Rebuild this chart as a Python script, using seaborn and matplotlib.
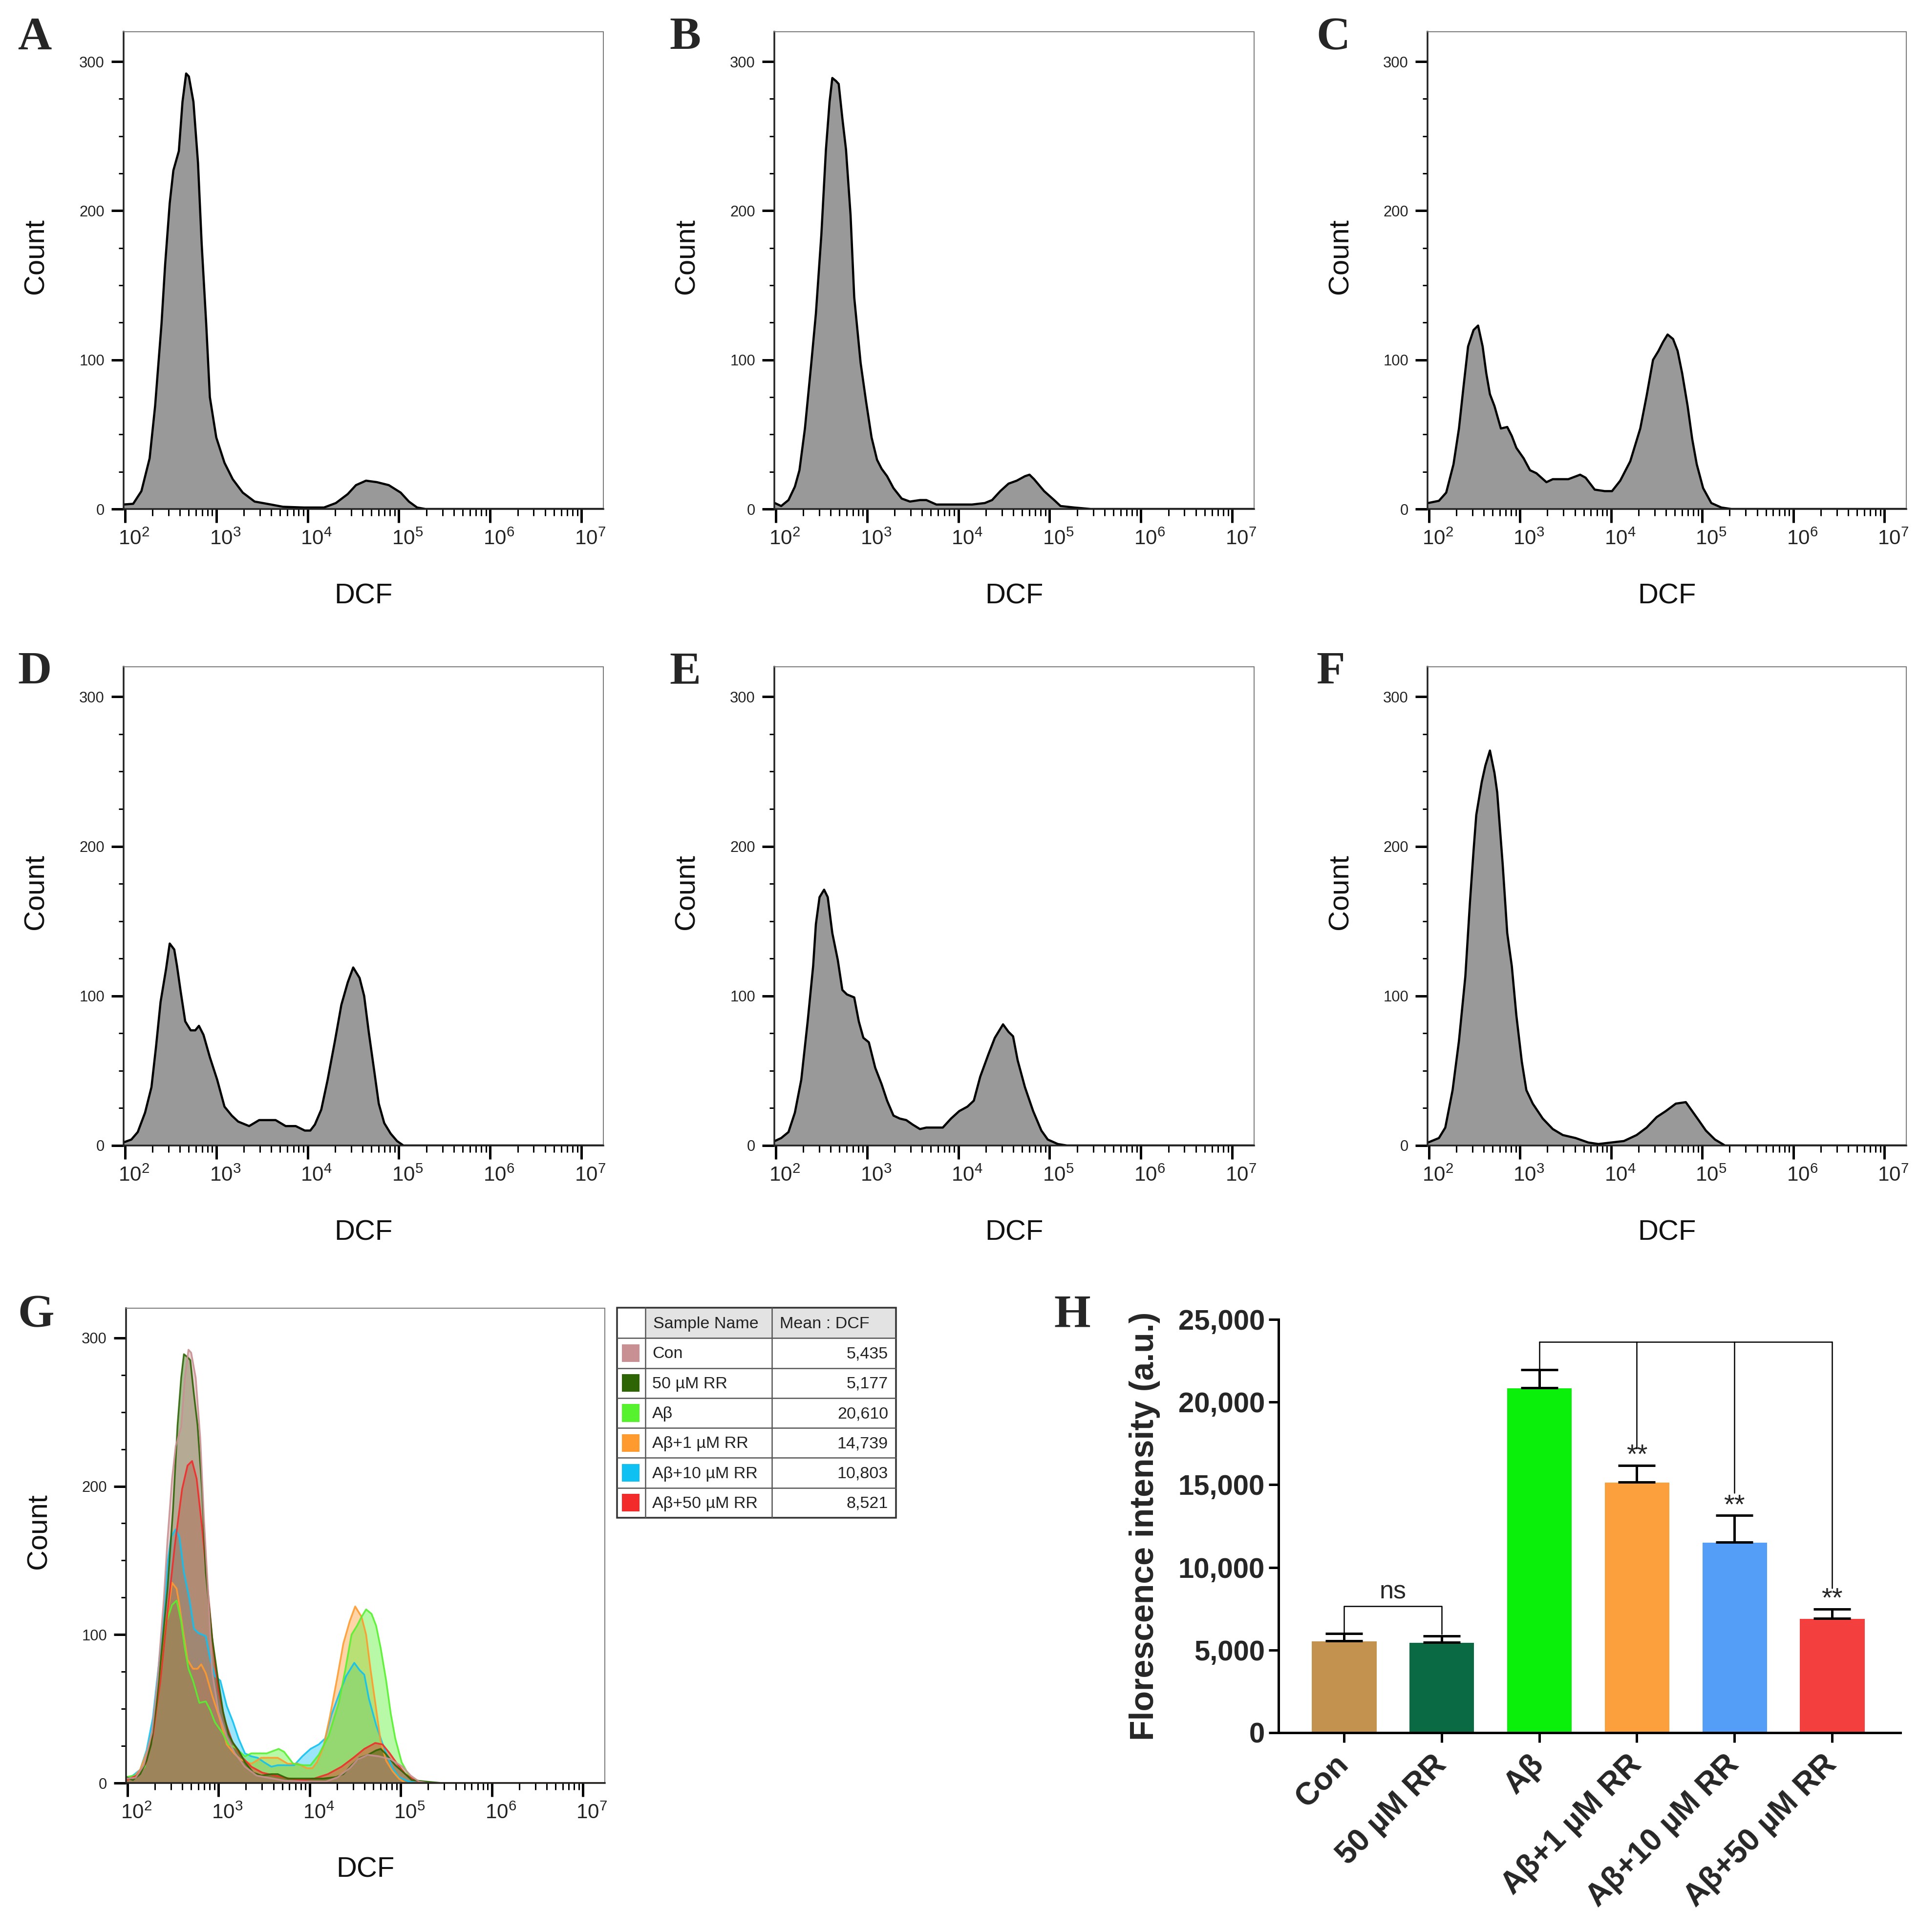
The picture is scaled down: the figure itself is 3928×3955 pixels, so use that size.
import numpy as np
import pandas as pd
import matplotlib
matplotlib.use("Agg")
import matplotlib.pyplot as plt
import matplotlib.transforms as mtransforms
from matplotlib.patches import Rectangle
from matplotlib.ticker import FuncFormatter
import seaborn as sns

# ---------------- data ----------------
# flow histograms: x = log10(DCF), y = count
a_x = [1.98, 2.09, 2.18, 2.27, 2.33, 2.40, 2.44, 2.49, 2.53, 2.59, 2.63, 2.67, 2.70, 2.75, 2.80, 2.84, 2.89, 2.93, 3.00,
       3.09, 3.18, 3.29, 3.42, 3.60, 3.73, 3.96, 4.18, 4.31, 4.44, 4.53, 4.64, 4.76, 4.89, 5.02, 5.11, 5.20, 5.29, 7.24]
a_y = [3, 3.5, 12, 34, 69, 124, 164, 205, 227, 240, 273, 292, 290, 273, 232, 178, 124, 75, 48,
       31, 20, 11, 5, 3, 1.5, 1, 1, 4, 10, 16, 19, 18, 16, 11, 5, 1, 0, 0]

b_x = [1.99, 2.06, 2.14, 2.21, 2.26, 2.32, 2.39, 2.44, 2.50, 2.55, 2.59, 2.62, 2.66, 2.69, 2.73, 2.77, 2.82, 2.86,
       2.93, 2.99, 3.05, 3.11, 3.16, 3.22, 3.29, 3.38, 3.47, 3.58, 3.65, 3.76, 3.86, 4.01, 4.15, 4.29, 4.37, 4.46,
       4.55, 4.64, 4.73, 4.78, 4.83, 4.94, 5.05, 5.12, 5.27, 5.45, 7.24]
b_y = [4, 2, 6, 15, 26, 54, 98, 131, 184, 241, 273, 289, 287, 285, 262, 241, 197, 142,
       98, 72, 48, 33, 27, 22, 14, 7, 5, 6, 6, 3, 3, 3, 3, 4, 6, 12,
       17, 19, 22, 23, 20, 12, 6, 2, 1, 0, 0]

c_x = [1.99, 2.11, 2.19, 2.27, 2.33, 2.38, 2.43, 2.49, 2.54, 2.59, 2.63, 2.67, 2.72, 2.79, 2.86, 2.91, 2.96, 3.04,
       3.11, 3.18, 3.29, 3.36, 3.53, 3.66, 3.72, 3.82, 3.93, 4.01, 4.10, 4.21, 4.32, 4.39, 4.46, 4.52, 4.57, 4.62,
       4.68, 4.73, 4.78, 4.84, 4.89, 4.94, 5.01, 5.10, 5.21, 5.32, 7.24]
c_y = [4, 5.5, 11, 30, 54, 82, 109, 120, 123, 109, 91, 77, 69, 54, 55, 49, 41, 34,
       26, 24, 18, 20, 20, 23, 21, 13, 12, 12, 19, 32, 54, 76, 100, 106, 112, 117,
       114, 106, 91, 69, 47, 30, 14, 4, 1, 0, 0]

d_x = [1.98, 2.07, 2.14, 2.22, 2.29, 2.34, 2.39, 2.45, 2.49, 2.54, 2.57, 2.61, 2.66, 2.72, 2.77, 2.81, 2.86, 2.93,
       3.01, 3.09, 3.17, 3.24, 3.36, 3.47, 3.65, 3.76, 3.87, 3.97, 4.03, 4.08, 4.15, 4.22, 4.30, 4.37, 4.44, 4.50,
       4.57, 4.62, 4.67, 4.73, 4.78, 4.84, 4.91, 4.98, 5.05, 7.24]
d_y = [2, 4, 9, 22, 39, 66, 96, 118, 135, 131, 120, 103, 83, 77, 77, 80, 74, 59,
       44, 26, 20, 16, 13, 17, 17, 13, 13, 10, 10, 14, 24, 44, 70, 94, 109, 119,
       112, 100, 76, 50, 28, 15, 8, 3, 0, 0]

e_x = [1.99, 2.06, 2.14, 2.21, 2.28, 2.35, 2.41, 2.44, 2.48, 2.53, 2.57, 2.62, 2.68, 2.73, 2.78, 2.86, 2.91, 2.96,
       3.02, 3.09, 3.16, 3.22, 3.29, 3.36, 3.43, 3.50, 3.58, 3.65, 3.83, 3.92, 4.01, 4.10, 4.17, 4.24, 4.33, 4.40,
       4.49, 4.55, 4.60, 4.65, 4.73, 4.82, 4.91, 4.98, 5.09, 5.19, 7.24]
e_y = [3, 5, 9, 22, 44, 83, 120, 148, 166, 171, 166, 142, 124, 104, 101, 99, 83, 72,
       69, 52, 41, 30, 20, 18, 17, 14, 11, 12, 12, 18, 23, 26, 30, 46, 61, 72,
       81, 76, 73, 57, 39, 23, 10, 4, 1, 0, 0]

f_x = [1.99, 2.11, 2.18, 2.26, 2.33, 2.40, 2.45, 2.49, 2.52, 2.58, 2.62, 2.67, 2.72, 2.75, 2.81, 2.86, 2.91, 2.96,
       3.02, 3.07, 3.14, 3.25, 3.36, 3.47, 3.61, 3.75, 3.86, 4.00, 4.14, 4.28, 4.39, 4.50, 4.60, 4.71, 4.82, 4.89,
       4.96, 5.04, 5.14, 5.25, 7.24]
f_y = [2, 5, 12, 37, 70, 113, 162, 197, 221, 243, 254, 264, 249, 236, 188, 142, 120, 87,
       56, 37, 28, 18, 11, 7, 5, 2, 1, 2, 3, 7, 12, 19, 23, 28, 29, 23,
       17, 10, 4, 0, 0]

# red (Aβ+50 µM RR) trace of the overlay panel G
g_red_x = [1.99, 2.10, 2.20, 2.28, 2.36, 2.44, 2.52, 2.60, 2.66, 2.71, 2.76, 2.82, 2.88, 2.94, 3.00, 3.07, 3.15, 3.25,
           3.36, 3.48, 3.62, 3.78, 3.92, 4.05, 4.20, 4.35, 4.48, 4.60, 4.72, 4.80, 4.88, 4.96, 5.05, 5.15, 5.25, 7.24]
g_red_y = [2, 5, 13, 32, 68, 115, 160, 198, 214, 217, 205, 172, 132, 92, 62, 42, 28, 18,
           11, 7, 5, 3, 2, 3, 6, 11, 17, 23, 27, 26, 20, 13, 6, 2, 0, 0]

groups = ["Con", "50 µM RR", "Aβ", "Aβ+1 µM RR", "Aβ+10 µM RR", "Aβ+50 µM RR"]
mean_dcf = [5435, 5177, 20610, 14739, 10803, 8521]
overlay_colors = ["#C99093", "#2D6404", "#56F22E", "#FF9A2E", "#0EC1F2", "#F22A2A"]

# panel H
bar_means = [5560, 5460, 20860, 15160, 11520, 6910]
bar_err = [440, 400, 1110, 1010, 1620, 570]
bar_colors = ["#C4924F", "#0A6A44", "#0BF00B", "#FBA03C", "#549EF8", "#F43F3F"]
ns_pair = (0, 1)
star_groups = [3, 4, 5]
star_leg_ends = [17200, 14500, 8760]

# ---------------- style ----------------
sns.set_theme(style="ticks")
plt.rcParams["font.family"] = ["Liberation Sans", "DejaVu Sans"]
plt.rcParams["mathtext.fontset"] = "custom"
plt.rcParams["mathtext.rm"] = "Liberation Sans"
plt.rcParams["mathtext.default"] = "regular"

W, H = 3928, 3955
fig = plt.figure(figsize=(W / 72, H / 72), dpi=72)
fig.patch.set_facecolor("white")


def px_axes(l, t, r, b):
    return fig.add_axes([l / W, 1 - b / H, (r - l) / W, (b - t) / H])


decades = [2, 3, 4, 5, 6, 7]
minor_x = [n + np.log10(k) for n in range(1, 8) for k in range(2, 10)]
minor_x = [m for m in minor_x if 1.985 < m < 7.24]
label_shift = mtransforms.ScaledTranslation(18 / 72, 0, fig.dpi_scale_trans)


def style_hist(ax):
    ax.set_xlim(1.985, 7.24)
    ax.set_ylim(0, 320)
    ax.set_xticks(decades)
    ax.set_xticklabels([rf"$10^{{{d}}}$" for d in decades], fontsize=42)
    ax.set_xticks(minor_x, minor=True)
    ax.set_yticks([0, 100, 200, 300])
    ax.set_yticks([25, 50, 75, 125, 150, 175, 225, 250, 275], minor=True)
    ax.tick_params(axis="x", which="major", direction="out", length=28, width=5, pad=14,
                   color="black", labelcolor="#222222")
    ax.tick_params(axis="x", which="minor", direction="out", length=14, width=3, color="black")
    ax.tick_params(axis="y", which="major", direction="out", length=25, width=5, labelsize=31, pad=14,
                   color="black", labelcolor="#222222")
    ax.tick_params(axis="y", which="minor", direction="out", length=10, width=3, color="black")
    for s in ["left", "bottom"]:
        ax.spines[s].set_linewidth(3.5)
        ax.spines[s].set_color("#222222")
    for s in ["top", "right"]:
        ax.spines[s].set_linewidth(2)
        ax.spines[s].set_color("#7a7a7a")
    ax.set_xlabel("DCF", fontsize=58, color="#111111")
    ax.set_ylabel("Count", fontsize=58, color="#111111")
    ax.xaxis.set_label_coords(0.5, -0.155)
    ax.yaxis.set_label_coords(-0.155, 0.53)
    for lab in ax.get_xticklabels():
        lab.set_transform(lab.get_transform() + label_shift)


hist_boxes = {
    "A": (253, 65, 1235, 1042), "B": (1585, 65, 2567, 1042), "C": (2922, 65, 3902, 1042),
    "D": (253, 1365, 1235, 2345), "E": (1585, 1365, 2567, 2345), "F": (2922, 1365, 3902, 2345),
}
hist_data = {"A": (a_x, a_y), "B": (b_x, b_y), "C": (c_x, c_y),
             "D": (d_x, d_y), "E": (e_x, e_y), "F": (f_x, f_y)}

for key, box in hist_boxes.items():
    ax = px_axes(*box)
    xs, ys = hist_data[key]
    ax.fill_between(xs, ys, 0, color="#999999", lw=0, zorder=1)
    sns.lineplot(x=xs, y=ys, sort=False, estimator=None, color="black", lw=4.5, ax=ax, zorder=2)
    style_hist(ax)

# ---------------- panel G overlay ----------------
axg = px_axes(258, 2678, 1238, 3650)
overlay = [(e_x, e_y, 4), (d_x, d_y, 3), (c_x, c_y, 2), (g_red_x, g_red_y, 5), (b_x, b_y, 1), (a_x, a_y, 0)]
for xs, ys, gi in overlay:
    col = overlay_colors[gi]
    axg.fill_between(xs, ys, 0, color=col, alpha=0.42, lw=0)
    sns.lineplot(x=xs, y=ys, sort=False, estimator=None, color=col, lw=3.5, alpha=0.9, ax=axg)
style_hist(axg)

# table next to G
axt = px_axes(1263, 2677, 1834, 3107)
axt.set_xlim(0, 571)
axt.set_ylim(428, 0)
axt.axis("off")
col_x = [0, 58, 317, 571]
row_h0, row_h = 62, 61
axt.add_patch(Rectangle((58, 0), 513, row_h0, facecolor="#E3E3E3", edgecolor="none"))
axt.text(74, row_h0 / 2 + 2, "Sample Name", fontsize=34, va="center", ha="left", color="#222222")
axt.text(333, row_h0 / 2 + 2, "Mean : DCF", fontsize=34, va="center", ha="left", color="#222222")
for i, (name, val, col) in enumerate(zip(groups, mean_dcf, overlay_colors)):
    y0 = row_h0 + i * row_h
    yc = y0 + row_h / 2
    axt.add_patch(Rectangle((10, yc - 18), 36, 36, facecolor=col, edgecolor="none"))
    axt.text(72, yc + 2, name, fontsize=34, va="center", ha="left", color="#222222")
    axt.text(555, yc + 2, f"{val:,}", fontsize=34, va="center", ha="right", color="#222222")
    axt.plot([0, 571], [y0, y0], color="#555555", lw=2.5, clip_on=False)
for cx in col_x[1:3]:
    axt.plot([cx, cx], [0, 428], color="#555555", lw=2.5, clip_on=False)
axt.add_patch(Rectangle((0, 0), 571, 428, facecolor="none", edgecolor="#333333", lw=3.5, clip_on=False))

# ---------------- panel H bar chart ----------------
axh = px_axes(2617, 2701, 3890, 3547)
df_h = pd.DataFrame({"group": groups, "value": bar_means})
sns.barplot(data=df_h, x="group", y="value", hue="group", order=groups, hue_order=groups,
            palette=bar_colors, saturation=1, width=0.667, errorbar=None, legend=False, ax=axh, zorder=2)
axh.errorbar(range(len(groups)), bar_means, yerr=[np.zeros(len(groups)), bar_err], fmt="none",
             ecolor="black", elinewidth=5, capsize=38, capthick=5, zorder=3)
axh.set_xlim(-0.67, 5.70)
axh.set_ylim(0, 25000)
axh.set_yticks(range(0, 25001, 5000))
axh.yaxis.set_major_formatter(FuncFormatter(lambda v, p: f"{int(v):,}"))
axh.tick_params(axis="y", length=20, width=5, labelsize=58, pad=8, color="black")
axh.tick_params(axis="x", length=20, width=5, labelsize=64, pad=36, color="black")
for lab in axh.get_yticklabels():
    lab.set_fontweight("bold")
axh.set_xticks(range(len(groups)))
axh.set_xticklabels(groups, rotation=45, ha="right", va="center", rotation_mode="anchor", fontweight="bold")
for s in ["top", "right"]:
    axh.spines[s].set_visible(False)
for s in ["left", "bottom"]:
    axh.spines[s].set_linewidth(5)
    axh.spines[s].set_color("black")
axh.set_xlabel("")
axh.set_ylabel("Florescence intensity (a.u.)", fontsize=68, fontweight="bold")
axh.yaxis.set_label_coords(-0.19, 0.5)

# significance brackets
i0, i1 = ns_pair
ns_y = 7650
axh.plot([i0, i0, i1, i1],
         [bar_means[i0] + bar_err[i0] + 100, ns_y, ns_y, bar_means[i1] + bar_err[i1] + 100],
         color="black", lw=2.5, zorder=4)
axh.text((i0 + i1) / 2, ns_y + 150, "ns", fontsize=52, ha="center", va="bottom")
top_y = 23650
axh.plot([2, 2], [bar_means[2] + bar_err[2] + 50, top_y], color="black", lw=2.5, zorder=4)
axh.plot([2, star_groups[-1]], [top_y, top_y], color="black", lw=2.5, zorder=4)
for gi, leg_end in zip(star_groups, star_leg_ends):
    axh.plot([gi, gi], [top_y, leg_end], color="black", lw=2.5, zorder=4)
    axh.text(gi, bar_means[gi] + bar_err[gi] - 200, "**", fontsize=56, ha="center", va="bottom")

# ---------------- panel letters ----------------
letters = {"A": (36, 101), "B": (1370, 101), "C": (2694, 101),
           "D": (36, 1400), "E": (1370, 1400), "F": (2694, 1400),
           "G": (36, 2716), "H": (2157, 2716)}
for letter, (lx, ly) in letters.items():
    fig.text(lx / W, 1 - ly / H, letter, fontsize=96, fontweight="bold", family="Liberation Serif",
             ha="left", va="baseline")

fig.savefig("out.png", dpi=72, facecolor="white")
